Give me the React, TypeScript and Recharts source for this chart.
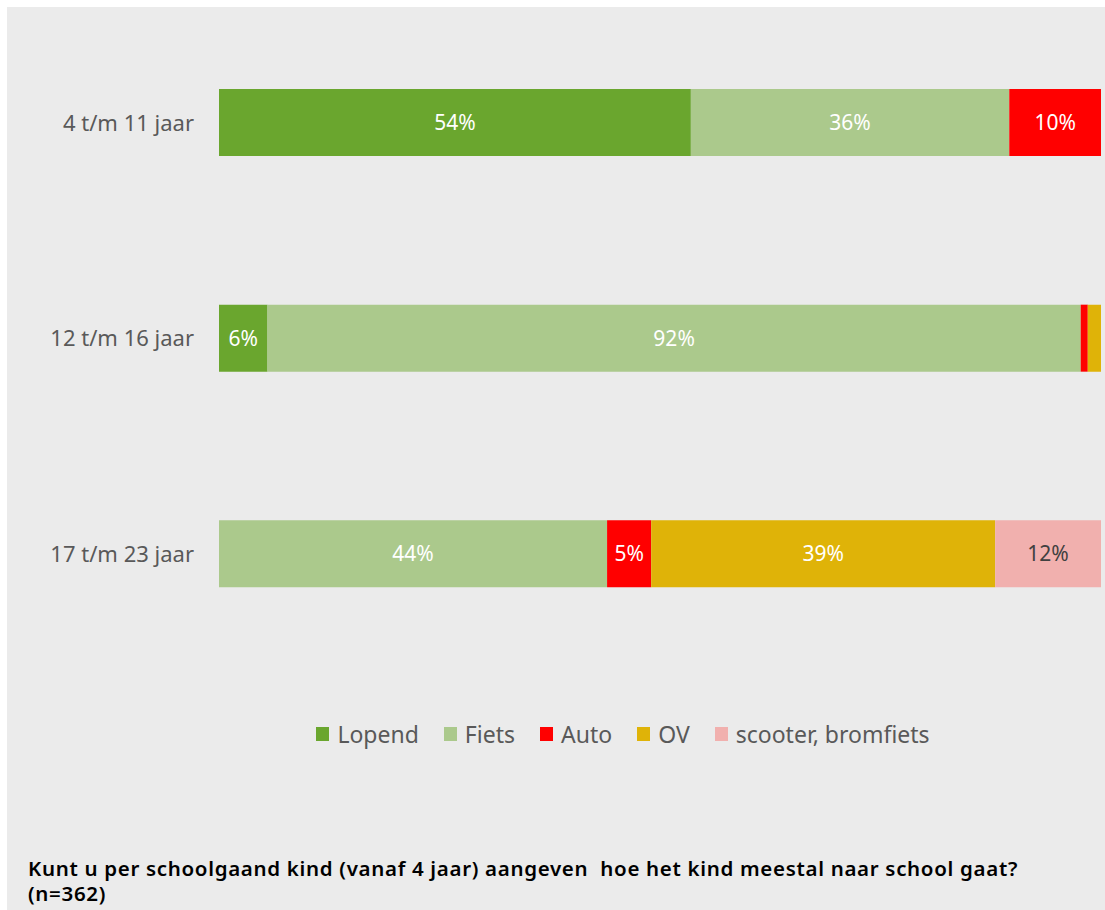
import React from "react";
import { BarChart, Bar, XAxis, YAxis, Legend, LabelList } from "recharts";

const categories = ["4 t/m 11 jaar", "12 t/m 16 jaar", "17 t/m 23 jaar"];
const lopend = [53.5, 5.5, 0];
const fiets = [36.1, 92.2, 44.0];
const auto = [10.4, 0.8, 5.0];
const ov = [0, 1.5, 39.0];
const scooter = [0, 0, 12.0];

const SERIES = [
  { key: "lopend", name: "Lopend", color: "#6aa62e", label: "#ffffff" },
  { key: "fiets", name: "Fiets", color: "#abc98c", label: "#ffffff" },
  { key: "auto", name: "Auto", color: "#ff0000", label: "#ffffff" },
  { key: "ov", name: "OV", color: "#dfb308", label: "#ffffff" },
  { key: "scooter", name: "scooter, bromfiets", color: "#f1b0ae", label: "#404040" },
];

const data = categories.map((c, i) => ({
  name: c,
  lopend: lopend[i],
  fiets: fiets[i],
  auto: auto[i],
  ov: ov[i],
  scooter: scooter[i],
}));

const FONT = '"Noto Sans", "Open Sans", sans-serif';

const fmt = (v: any) => {
  const n = Number(v);
  if (!n || n < 3) return "";
  return `${Math.round(n)}%`;
};

function LegendContent() {
  return (
    <div
      style={{
        paddingTop: 58,
        height: 28,
        display: "flex",
        justifyContent: "center",
        alignItems: "center",
        fontFamily: FONT,
        fontSize: 23,
        color: "#595959",
        paddingLeft: 162,
      }}
    >
      {SERIES.map((s) => (
        <div key={s.key} style={{ display: "flex", alignItems: "center", marginRight: 25 }}>
          <span style={{ width: 13, height: 14, background: s.color, display: "inline-block", marginRight: 8 }} />
          <span>{s.name}</span>
        </div>
      ))}
    </div>
  );
}

export default function App() {
  return (
    <div
      style={{
        position: "fixed",
        left: 7,
        top: 7,
        width: 1098,
        height: 903,
        background: "#ebebeb",
        fontFamily: FONT,
      }}
    >
      <div style={{ position: "absolute", left: 1, top: 1 }}>
        <BarChart
          width={1097}
          height={760}
          data={data}
          layout="vertical"
          barSize={67}
          margin={{ top: 7, right: 4, bottom: 20, left: 0 }}
        >
          <XAxis type="number" domain={[0, 100]} allowDataOverflow hide />
          <YAxis
            type="category"
            dataKey="name"
            width={211}
            axisLine={false}
            tickLine={false}
            tickSize={0}
            tickMargin={25}
            tick={{ fill: "#595959", fontSize: 22, fontFamily: FONT }}
          />
          <Legend verticalAlign="bottom" content={() => <LegendContent />} />
          {SERIES.map((s) => (
            <Bar key={s.key} dataKey={s.key} name={s.name} stackId="a" fill={s.color} isAnimationActive={false}>
              <LabelList
                dataKey={s.key}
                position="center"
                formatter={fmt}
                fill={s.label}
                fontSize={21}
                fontFamily={FONT}
              />
            </Bar>
          ))}
        </BarChart>
      </div>
      <div
        style={{
          position: "absolute",
          left: 21,
          top: 849,
          fontWeight: 600,
          fontSize: 20.5,
          letterSpacing: 0.68,
          color: "#000000",
        }}
      >
        <div style={{ height: 25, lineHeight: "25px" }}>
          Kunt u per schoolgaand kind (vanaf 4 jaar) aangeven&nbsp; hoe het kind meestal naar school gaat?
        </div>
        <div style={{ height: 25, lineHeight: "25px" }}>(n=362)</div>
      </div>
    </div>
  );
}
